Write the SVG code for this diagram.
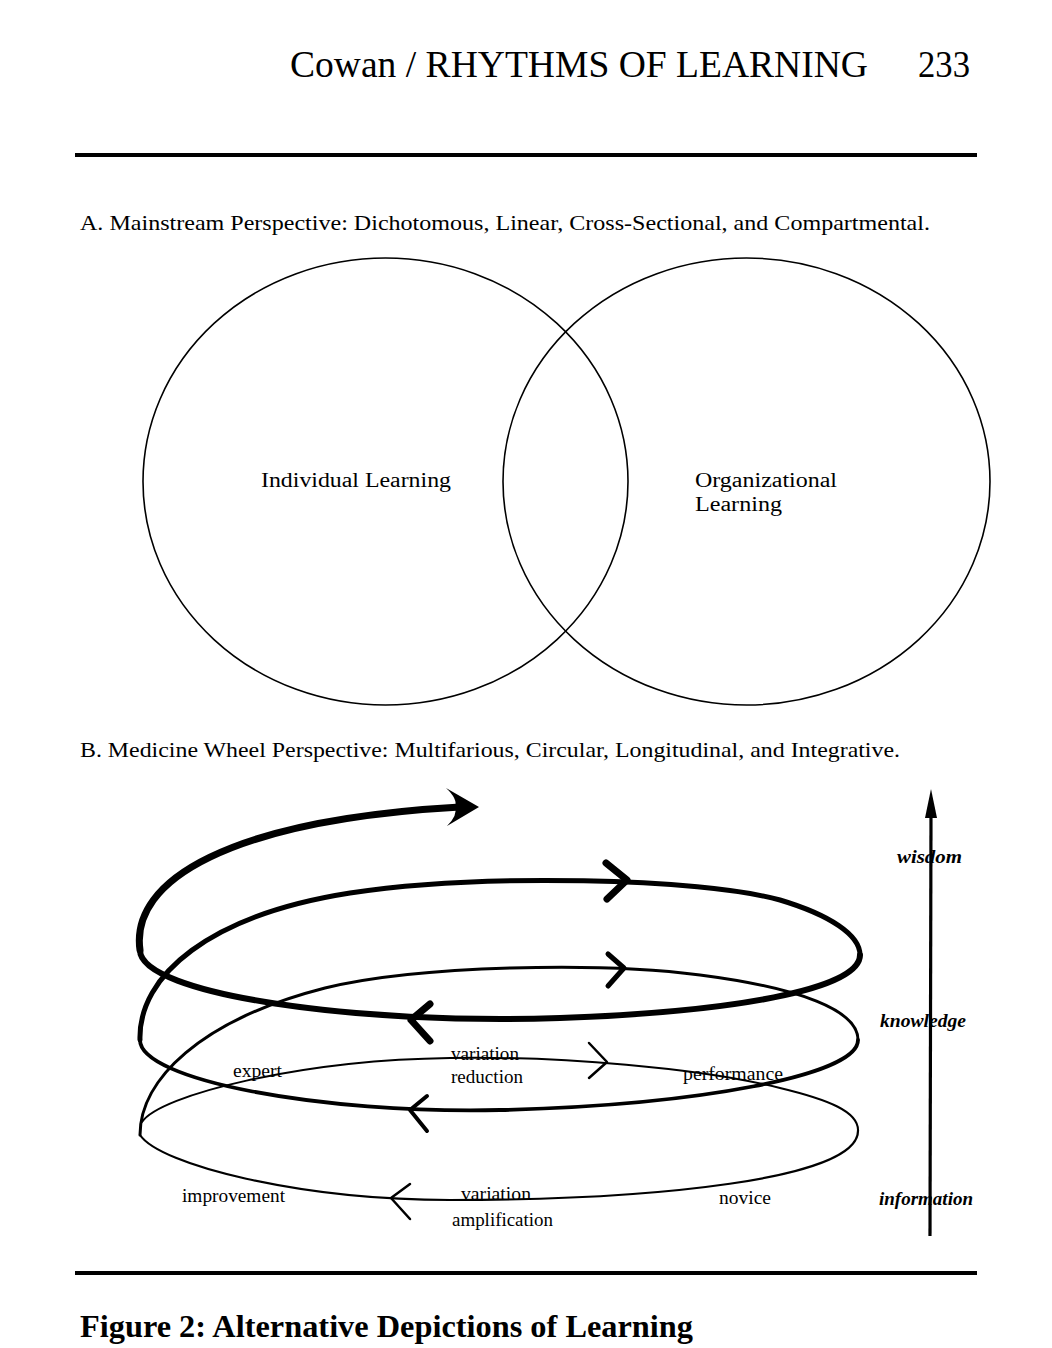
<svg xmlns="http://www.w3.org/2000/svg" width="1052" height="1348" viewBox="0 0 1052 1348">
<style>
.t{font-family:"Liberation Serif","Times New Roman",serif;fill:#000}
.hd{font-size:38px}
.sec{font-size:21px}
.lbl{font-size:20px}
.sl{font-size:18px}
.ax{font-size:18px;font-style:italic;font-weight:bold}
.cap{font-size:32px;font-weight:bold}
.rule{stroke:#000;stroke-width:4}
.venn{fill:none;stroke:#000;stroke-width:1.6}
.sp{fill:none;stroke:#000;stroke-linecap:round;stroke-linejoin:round}
</style>
<rect width="1052" height="1348" fill="#fff"/>

<g id="header">
<text class="t hd" x="290" y="77" textLength="578" lengthAdjust="spacingAndGlyphs">Cowan / RHYTHMS OF LEARNING</text>
<text class="t hd" x="918" y="77" textLength="52" lengthAdjust="spacingAndGlyphs">233</text>
</g>
<line class="rule" x1="75" y1="155" x2="977" y2="155"/>
<line class="rule" x1="75" y1="1273" x2="977" y2="1273"/>

<text class="t sec" x="80" y="230" textLength="850" lengthAdjust="spacingAndGlyphs">A. Mainstream Perspective: Dichotomous, Linear, Cross-Sectional, and Compartmental.</text>

<g id="individual-learning">
<ellipse class="venn" cx="385.5" cy="481.5" rx="242.5" ry="223.5"/>
<text class="t lbl" x="261" y="487" textLength="190" lengthAdjust="spacingAndGlyphs">Individual Learning</text>
</g>
<g id="organizational-learning">
<ellipse class="venn" cx="746.5" cy="481.5" rx="243.5" ry="223.5"/>
<text class="t lbl" x="695" y="487" textLength="142" lengthAdjust="spacingAndGlyphs">Organizational</text>
<text class="t lbl" x="695" y="511" textLength="87" lengthAdjust="spacingAndGlyphs">Learning</text>
</g>

<text class="t sec" x="80" y="757" textLength="820" lengthAdjust="spacingAndGlyphs">B. Medicine Wheel Perspective: Multifarious, Circular, Longitudinal, and Integrative.</text>

<g id="spiral">
<path class="sp" stroke-width="2" d="M142,1122 C160,1095 300,1060 450,1058 C560,1056 700,1068 780,1088 C830,1100 858,1112 858,1130"/>
<path class="sp" stroke-width="2.2" d="M858,1130 C860,1180 650,1200 450,1200 C300,1200 160,1165 140,1135"/>
<path class="sp" stroke-width="3" d="M140,1135 C140,1080 200,1020 325,988 C420,965 600,962 700,975 C800,988 858,1010 858,1040"/>
<path class="sp" stroke-width="3.8" d="M858,1040 C858,1075 700,1105 500,1110 C320,1114 140,1080 140,1040"/>
<path class="sp" stroke-width="5" d="M140,1040 C138,975 210,915 350,893 C480,873 700,878 780,900 C830,915 860,935 860,955"/>
<path class="sp" stroke-width="6" d="M860,955 C860,990 730,1012 560,1018 C360,1025 140,995 140,950"/>
<path class="sp" stroke-width="7" d="M140,950 C130,880 230,820 460,807"/>
<path d="M479,807 L446,788 Q458,799 455,807 Q458,815 447,826 Z" fill="#000"/>
<!-- chevrons -->
<polyline class="sp" stroke-width="7" points="606,863 627,880 607,899"/>
<polyline class="sp" stroke-width="5" points="608,954 624,968 608,986"/>
<polyline class="sp" stroke-width="7" points="430,1004 411,1020 430,1041"/>
<polyline class="sp" stroke-width="2.5" points="589,1043 607,1062 589,1078"/>
<polyline class="sp" stroke-width="4" points="427,1096 410,1110 427,1131"/>
<polyline class="sp" stroke-width="2.5" points="410,1184 391,1198 410,1219"/>
</g>

<g id="spiral-labels">
<text class="t sl" x="233" y="1077" textLength="49" lengthAdjust="spacingAndGlyphs">expert</text>
<text class="t sl" x="451" y="1060" textLength="68" lengthAdjust="spacingAndGlyphs">variation</text>
<text class="t sl" x="451" y="1083" textLength="72" lengthAdjust="spacingAndGlyphs">reduction</text>
<text class="t sl" x="683" y="1080" textLength="100" lengthAdjust="spacingAndGlyphs">performance</text>
<text class="t sl" x="182" y="1202" textLength="103" lengthAdjust="spacingAndGlyphs">improvement</text>
<text class="t sl" x="461" y="1200" textLength="70" lengthAdjust="spacingAndGlyphs">variation</text>
<text class="t sl" x="452" y="1226" textLength="101" lengthAdjust="spacingAndGlyphs">amplification</text>
<text class="t sl" x="719" y="1204" textLength="52" lengthAdjust="spacingAndGlyphs">novice</text>
</g>

<g id="axis">
<text class="t ax" x="897" y="863" textLength="65" lengthAdjust="spacingAndGlyphs">wisdom</text>
<text class="t ax" x="880" y="1027" textLength="86" lengthAdjust="spacingAndGlyphs">knowledge</text>
<text class="t ax" x="879" y="1205" textLength="94" lengthAdjust="spacingAndGlyphs">information</text>
<line x1="930" y1="1236" x2="931" y2="812" stroke="#000" stroke-width="3.2"/>
<path d="M931,789 L937,818 L925,818 Z" fill="#000"/>
</g>

<text class="t cap" x="80" y="1337" textLength="613" lengthAdjust="spacingAndGlyphs">Figure 2: Alternative Depictions of Learning</text>
</svg>
